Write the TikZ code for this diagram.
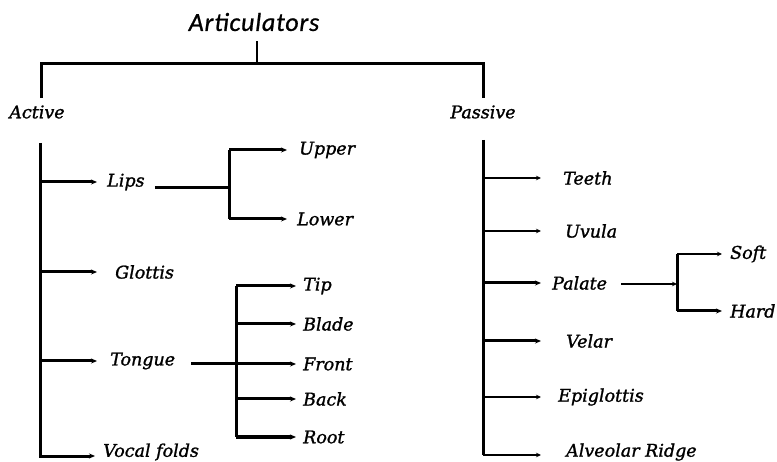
\documentclass[tikz,border=0pt]{standalone}
\usepackage{fontspec}
\newfontfamily\lblfont[ItalicFeatures={FakeBold=1.3}]{DejaVu Serif}
\newfontfamily\titlefont[LetterSpace=3,ItalicFeatures={FakeBold=0.8}]{Carlito}
\usetikzlibrary{arrows.meta}
\begin{document}
\begin{tikzpicture}[x=1pt,y=-1pt,
  lbl/.style={font=\lblfont\itshape\fontsize{17.5}{20}\selectfont, anchor=west, inner sep=0pt},
  trunk/.style={line width=3pt},
  br/.style={line width=3pt, -{Stealth[length=6pt,width=5pt]}},
  thinbr/.style={line width=1.8pt, -{Stealth[length=5pt,width=4.5pt]}}]
\useasboundingbox[fill=white] (0,0) rectangle (777,462);

% title and top-level split
\node[font=\titlefont\itshape\fontsize{26}{30}\selectfont, inner sep=0pt] (art) at (254,22) {Articulators};
\node[lbl, anchor=center] (active) at (37,112) {Active};
\node[lbl, anchor=center] (passive) at (483,112) {Passive};
\coordinate (tj) at (257,64);
\coordinate (la) at (41,64);
\coordinate (ra) at (483,64);
\draw[line width=1.2pt] ([yshift=-10pt]tj |- art.south) -- (tj);
\draw[trunk] ([yshift=7pt]active.north -| la) -- (la) -- (ra) -- ([yshift=7pt]passive.north -| ra);

% active articulators
\node[lbl] (lips) at (107,182) {Lips};
\node[lbl] (glottis) at (115,272) {Glottis};
\node[lbl] (tongue) at (110,361) {Tongue};
\node[lbl] (vocal) at (103,452) {Vocal folds};
\coordinate (lt) at (40,143);
\draw[br] (lt) |- ([xshift=-8pt,yshift=-4pt]vocal.west);
\draw[br] (lt |- lips) -- ([xshift=-10pt]lips.west);
\draw[br] (lt |- glottis) -- ([xshift=-18pt]glottis.west);
\draw[br] (lt |- tongue) -- ([xshift=-13pt]tongue.west);

% lips
\node[lbl] (upper) at (299,150) {Upper};
\node[lbl] (lower) at (297,219) {Lower};
\coordinate (lj) at (229,188);
\draw[trunk] ([xshift=10pt]lips.east |- lj) -- (lj);
\draw[trunk] (lj |- upper) -- (lj |- lower);
\draw[br] (lj |- upper) -- ([xshift=-12pt]upper.west);
\draw[br] (lj |- lower) -- ([xshift=-10pt]lower.west);

% tongue
\node[lbl] (tip) at (303,286) {Tip};
\node[lbl] (blade) at (303,324) {Blade};
\node[lbl] (front) at (303,364) {Front};
\node[lbl] (back) at (303,399) {Back};
\node[lbl] (root) at (303,437) {Root};
\coordinate (tv) at (236,364);
\draw[trunk] (tv |- tip) -- (tv |- root);
\draw[br] ([xshift=16pt]tongue.east |- front) -- ([xshift=-7pt]front.west);
\foreach \n in {tip,blade,back,root}
  \draw[br] (tv |- \n) -- ([xshift=-7pt]\n.west);

% passive articulators
\node[lbl] (teeth) at (563,178) {Teeth};
\node[lbl] (uvula) at (565,231) {Uvula};
\node[lbl] (palate) at (552,283) {Palate};
\node[lbl] (velar) at (566,341) {Velar};
\node[lbl] (epi) at (558,397) {Epiglottis};
\node[lbl] (alv) at (566,452) {Alveolar Ridge};
\coordinate (rt) at (483,140);
\draw[trunk] (rt) -- ([yshift=-3pt]rt |- alv);
\draw[thinbr] (rt |- teeth) -- ++(58,0);
\draw[thinbr] (rt |- uvula) -- ++(58,0);
\draw[br] (rt |- palate) -- ++(58,0);
\draw[br] (rt |- velar) -- ++(58,0);
\draw[thinbr] (rt |- epi) -- ++(58,0);
\draw[thinbr] ([yshift=-3pt]rt |- alv) -- ++(58,0);

% palate
\node[lbl] (soft) at (730,254) {Soft};
\node[lbl] (hard) at (730,311) {Hard};
\coordinate (pv) at (677,284);
\draw[thinbr] ([xshift=14pt]palate.east |- pv) -- (pv);
\draw[trunk] (pv |- soft) -- (pv |- hard);
\draw[thinbr] (pv |- soft) -- ([xshift=-8pt]soft.west);
\draw[br] (pv |- hard) -- ([xshift=-8pt]hard.west);
\end{tikzpicture}
\end{document}
